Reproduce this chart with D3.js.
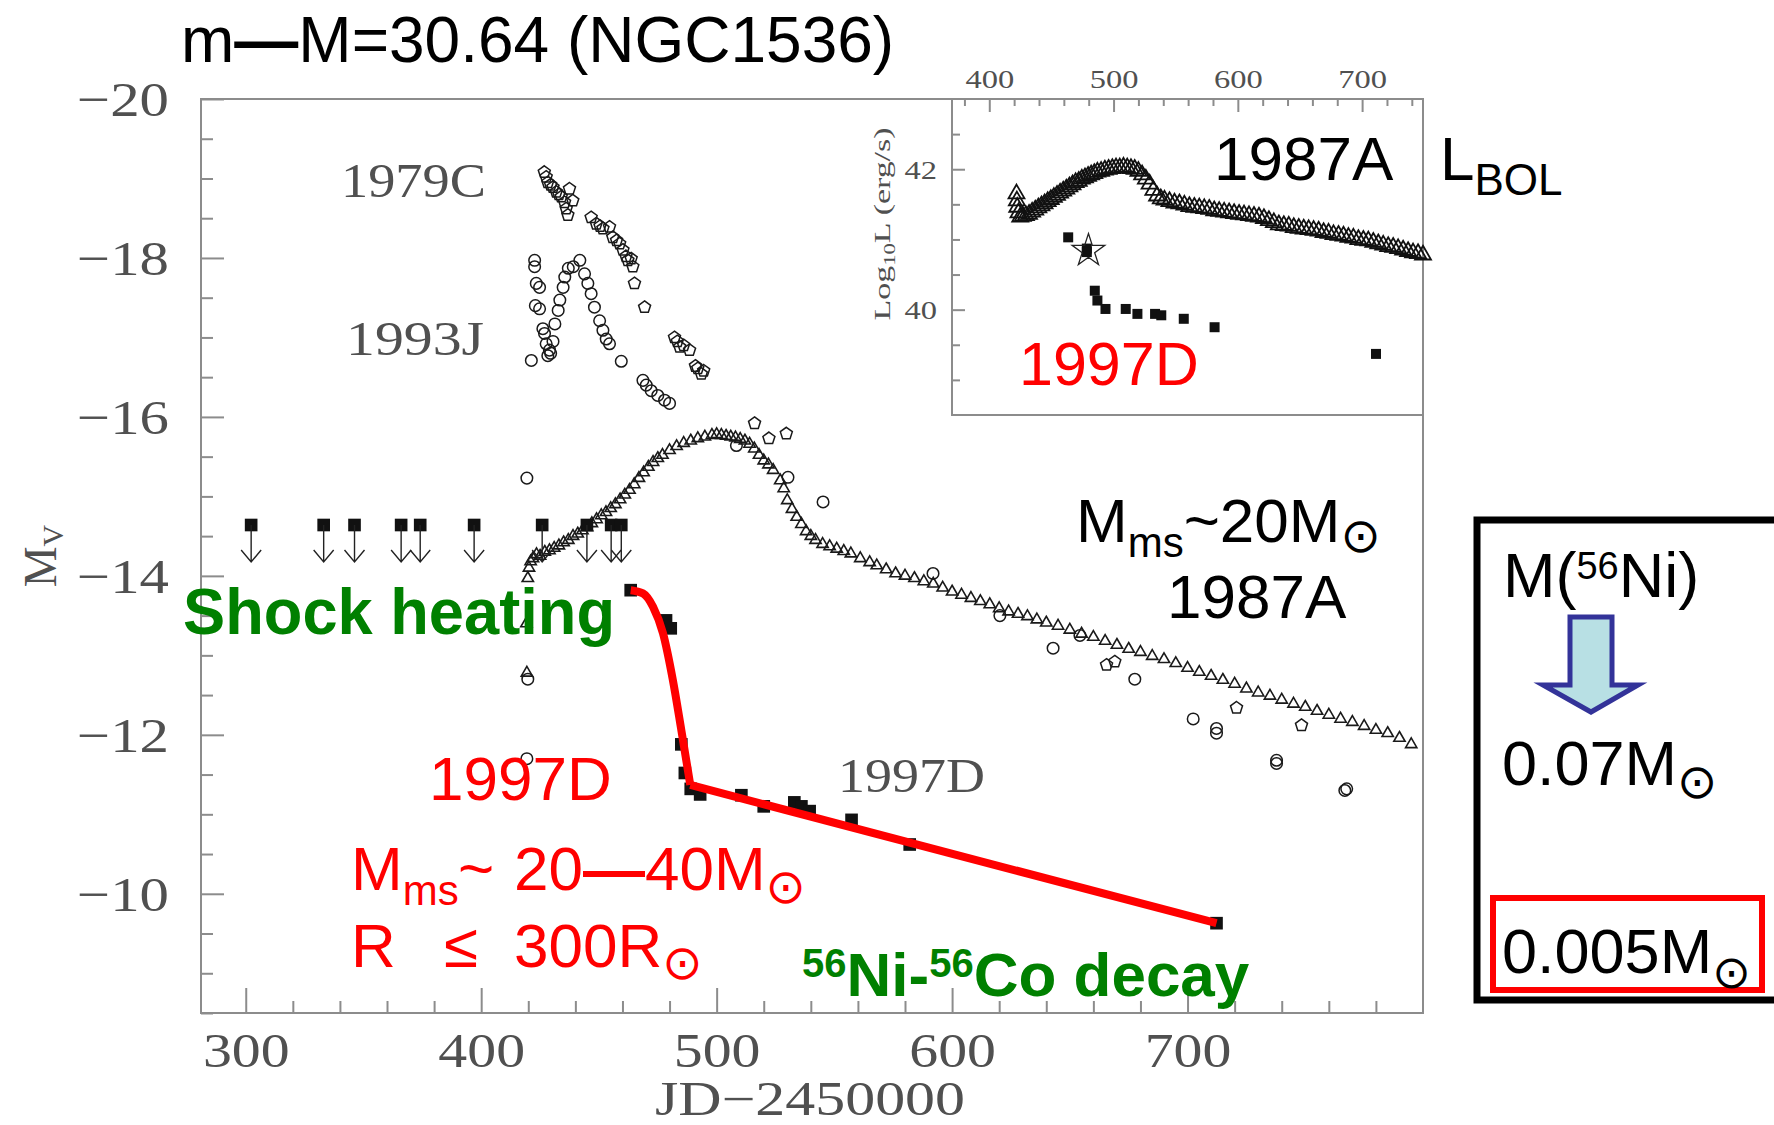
<!DOCTYPE html>
<html>
<head>
<meta charset="utf-8">
<script src="https://cdn.jsdelivr.net/npm/d3@7"></script>
<style>
  body { margin: 0; background: #fff; }
  svg { display: block; }
</style>
</head>
<body>
<svg id="chart" width="1774" height="1125"></svg>
<script>
// ---------------- data (day = JD-2450000 on the SN 1997D time axis) ----------------

// SN 1987A, V band absolute magnitude (open triangles)
const sn1987aV = [
  [419.2,-13.4],[419.4,-12.78],[419.8,-13.97],[420.3,-14.1],[421,-14.18],[422,-14.22],[423.5,-14.27],
  [425,-14.25],[427,-14.3],[429,-14.32],[431,-14.35],[433,-14.38],[435,-14.42],[437,-14.45],
  [439,-14.5],[441,-14.53],[443,-14.57],[445,-14.61],[447,-14.66],[449,-14.71],[451,-14.76],
  [453,-14.8],[455,-14.85],[457,-14.9],[459,-14.96],[461,-15.02],[463,-15.08],[465,-15.15],
  [467,-15.23],[469,-15.3],[471,-15.37],[473,-15.43],[475,-15.48],[477,-15.52],[480,-15.58],
  [483,-15.63],[486,-15.67],[489,-15.7],[492,-15.73],[495,-15.75],[498,-15.77],[500,-15.78],
  [502,-15.77],[504,-15.76],[506,-15.75],[508,-15.74],[510,-15.72],[512,-15.7],[514,-15.66],
  [516,-15.6],[518,-15.52],[520,-15.45],[522,-15.4],[524,-15.33],[527,-15.2],[528.5,-15.1],
  [530,-14.95],[532,-14.84],[534,-14.74],[536,-14.65],[538,-14.56],[540,-14.5],[542,-14.45],
  [545,-14.4],[548,-14.37],[551,-14.34],[554,-14.31],[557,-14.28],[561,-14.22],[565,-14.17],
  [568,-14.13],[572,-14.08],[576,-14.03],[580,-14.0],[584,-13.97],[588,-13.93],[592,-13.9],
  [596,-13.85],[600,-13.8],[604,-13.76],[608,-13.72],[612,-13.68],[616,-13.64],[620,-13.59],
  [624,-13.55],[628,-13.52],[632,-13.49],[636,-13.45],[640,-13.41],[645,-13.37],[650,-13.32],
  [655,-13.27],[660,-13.23],[665,-13.18],[670,-13.13],[675,-13.08],[680,-13.04],[685,-12.99],
  [690,-12.95],[695,-12.9],[700,-12.84],[705,-12.79],[710,-12.74],[715,-12.69],[720,-12.64],
  [725,-12.58],[730,-12.53],[735,-12.49],[740,-12.44],[745,-12.39],[750,-12.35],[755,-12.3],
  [760,-12.25],[765,-12.2],[770,-12.16],[775,-12.11],[780,-12.06],[785,-12.02],[790,-11.96],
  [795,-11.88]
];

// SN 1979C (open pentagons)
const sn1979cV = [
  [426.8,-19.08],[427.6,-19.02],[428.3,-18.95],[429.5,-18.92],[430.5,-18.89],[431.9,-18.83],
  [433,-18.8],[434,-18.77],[435.4,-18.7],[436.1,-18.62],[436.8,-18.54],[437.5,-18.87],
  [438.9,-18.72],[446.7,-18.51],[448.9,-18.43],[450.5,-18.4],[451.7,-18.37],[454.5,-18.39],
  [455.9,-18.26],[457.5,-18.22],[458.8,-18.18],[460.2,-18.1],[461.5,-18.02],[462.3,-17.97],
  [463.7,-17.99],[464.4,-17.89],[465.1,-17.68],[469.4,-17.38],[482.1,-17.0],[483.3,-16.95],
  [484.3,-16.88],[486,-16.9],[488.5,-16.84],[491,-16.64],[492,-16.61],[493.5,-16.54],
  [494.5,-16.58],[516.1,-15.92],[522.2,-15.73],[529.6,-15.79],[665.6,-12.88],[669.1,-12.92],
  [720.8,-12.34],[748.4,-12.12]
];

// SN 1993J (open circles)
const sn1993jV = [
  [419.4,-15.23],[419.4,-11.7],[419.8,-12.7],[421.3,-16.71],[422.7,-17.97],[422.7,-17.89],
  [423.4,-17.68],[424.8,-17.63],[423,-17.4],[424.8,-17.36],[426.2,-17.11],[426.9,-17.05],
  [427.6,-16.92],[429,-16.84],[428.3,-16.77],[429.5,-16.8],[430.5,-16.95],[431.3,-17.17],
  [432.7,-17.34],[433.4,-17.47],[434.8,-17.63],[435.5,-17.76],[437,-17.87],[439.1,-17.89],
  [441.9,-17.97],[443.9,-17.8],[445.3,-17.68],[446.7,-17.55],[448.1,-17.38],[450.3,-17.21],
  [451.7,-17.09],[453.1,-16.98],[454.5,-16.92],[459.5,-16.7],[468.7,-16.46],[470.1,-16.4],
  [472.2,-16.33],[475,-16.27],[477.9,-16.21],[480,-16.17],[508.4,-15.64],[530.3,-15.24],
  [545.2,-14.93],[591.9,-14.03],[620.3,-13.5],[642.9,-13.09],[654.3,-13.25],[677.6,-12.7],
  [702.4,-12.2],[712.3,-12.08],[712.3,-12.02],[737.8,-11.68],[737.8,-11.64],[766.8,-11.3],
  [767.6,-11.32]
];

// SN 1997D detections (filled squares)
const sn1997dDay = [463.5,478.5,480.5,485,486.5,489,493,510.5,520,533,536,539.5,557.3,582,712.3];
const sn1997dMv  = [-13.82,-13.44,-13.34,-11.88,-11.52,-11.32,-11.25,-11.24,-11.1,-11.15,-11.1,-11.04,-10.93,-10.62,-9.63];

// SN 1997D pre-discovery upper limits
const sn1997dLimDay = [302.3,333.1,346.2,366.0,374.1,397.0,425.9,444.9,455.2,459.5];
const sn1997dLimMv  = [-14.64,-14.64,-14.64,-14.64,-14.64,-14.64,-14.64,-14.64,-14.64,-14.64];

// model light curve through SN 1997D: shock-cooling drop, then 56Co tail
const dropDay = [463.5,468.7,473,477.2,481.4,485,488.8];
const dropMv  = [-13.82,-13.78,-13.61,-13.28,-12.69,-12.06,-11.37];
const tailDay = [488.8,712.3];
const tailMv  = [-11.37,-9.63];

// inset: bolometric luminosity
const bol1987a = [
  [421.9,41.65],[422.2,41.55],[422.5,41.46],[423.5,41.38],[424.9,41.32],[427,41.33],[429.5,41.34],
  [432,41.36],[434.5,41.39],[437,41.42],[439.5,41.45],[442,41.48],[444.5,41.51],[447,41.54],
  [449.5,41.57],[452,41.6],[454.5,41.63],[457,41.66],[459.5,41.69],[462,41.72],[464.5,41.75],
  [467,41.78],[469.5,41.81],[472,41.83],[474.5,41.86],[477,41.88],[479.5,41.9],[482,41.92],
  [484.5,41.94],[487,41.96],[490,41.97],[493,41.99],[496,42.0],[499,42.01],[502,42.02],
  [505,42.02],[508,42.03],[511,42.02],[514,42.01],[517,42.0],[520,41.97],[523,41.92],
  [526,41.86],[529,41.79],[532,41.7],[535,41.62],[538,41.58],[541,41.56],[545,41.54],
  [549,41.52],[553,41.51],[557,41.49],[561,41.47],[565,41.46],[569,41.45],[573,41.44],
  [577,41.43],[581,41.41],[585,41.4],[589,41.39],[593,41.38],[597,41.37],[601,41.36],
  [605,41.35],[609,41.34],[613,41.33],[617,41.32],[621,41.3],[625,41.27],[629,41.24],
  [633,41.21],[637,41.2],[641,41.19],[645,41.17],[649,41.16],[653,41.15],[657,41.14],
  [661,41.13],[665,41.12],[669,41.1],[673,41.09],[677,41.07],[681,41.06],[685,41.05],
  [689,41.03],[693,41.02],[697,41.0],[701,40.99],[705,40.98],[709,40.96],[713,40.94],
  [717,40.92],[721,40.9],[725,40.89],[729,40.87],[733,40.85],[737,40.83],[741,40.81],
  [745,40.8],[749,40.78]
];
const bol1997dDay = [463.5,478.5,478.5,484.9,487,493.5,509.8,519.2,533.4,538.4,556.5,581.3,711.2];
const bol1997dLog = [41.03,40.87,40.82,40.27,40.13,40.01,40.01,39.94,39.94,39.92,39.87,39.75,39.37];
const starDay = [479.8];
const starLog = [40.84];

// tick labels
const mainXTicks = [300,400,500,600,700];
const mainYTicks = [-20,-18,-16,-14,-12,-10];
const insetXTicks = [400,500,600,700];
const insetYTicks = [40,42];

// ---------------- drawing ----------------
const svg = d3.select('#chart');
const AX = '#8c8c8c';
const TX = '#505050';
const SERIF = "'Liberation Serif','DejaVu Serif',serif";
const SANS = "'Liberation Sans',Arial,sans-serif";
const SUN = "'DejaVu Sans',sans-serif";
const zip = (a, b) => a.map((v, i) => [v, b[i]]);

svg.append('rect').attr('width', 1774).attr('height', 1125).attr('fill', '#fff');

const x = d3.scaleLinear().domain([281, 800]).range([201, 1423]);
const y = d3.scaleLinear().domain([-20, -8.5]).range([99, 1013]);

// frame
svg.append('rect')
  .attr('x', 201).attr('y', 99).attr('width', 1222).attr('height', 914)
  .attr('fill', 'none').attr('stroke', AX).attr('stroke-width', 2);

function styleAxis(g) {
  g.select('.domain').remove();
  g.selectAll('line').attr('stroke', AX).attr('stroke-width', 2);
  g.attr('font-family', SERIF).attr('fill', TX);
}

// bottom axis
const bottom = y.range()[1];
svg.append('g').attr('transform', `translate(0,${bottom})`)
  .call(d3.axisBottom(x).tickValues(d3.range(300, 800, 20).filter(v => v % 100)).tickSize(-12).tickFormat(''))
  .call(styleAxis);
svg.append('g').attr('transform', `translate(0,${bottom})`)
  .call(d3.axisBottom(x).tickValues(mainXTicks).tickSize(-25).tickFormat(d3.format('d')))
  .call(styleAxis)
  .call(g => g.selectAll('text')
    .attr('y', 0).attr('dy', 0).attr('fill', TX).attr('font-size', 49)
    .attr('transform', 'translate(0,54) scale(1.18,1)'));

// left axis
svg.append('g').attr('transform', 'translate(201,0)')
  .call(d3.axisLeft(y).tickValues(d3.range(-20, -8.4, 0.5).filter(v => Math.abs(v % 2) > 1e-6)).tickSize(-12).tickFormat(''))
  .call(styleAxis);
svg.append('g').attr('transform', 'translate(201,0)')
  .call(d3.axisLeft(y).tickValues(mainYTicks).tickSize(-23).tickFormat(d => '\u2212' + Math.abs(d)))
  .call(styleAxis)
  .call(g => g.selectAll('text')
    .attr('x', 0).attr('dy', '0.34em').attr('fill', TX).attr('font-size', 49)
    .attr('transform', 'translate(-32,0) scale(1.2,1)'));

// axis titles
const ylab = svg.append('text').attr('transform', 'translate(56,556) rotate(-90)')
  .attr('text-anchor', 'middle').attr('font-family', SERIF).attr('fill', TX).attr('font-size', 46);
ylab.append('tspan').text('M');
ylab.append('tspan').attr('font-size', 30).attr('dy', 7).text('V');

svg.append('text').attr('x', 655).attr('y', 1115)
  .attr('font-family', SERIF).attr('fill', TX).attr('font-size', 48)
  .attr('textLength', 310).attr('lengthAdjust', 'spacingAndGlyphs')
  .text('JD\u22122450000');

// symbols
const pentagon = {
  draw(ctx, size) {
    const r = Math.sqrt(size / 2.378);
    for (let i = 0; i < 5; i++) {
      const a = -Math.PI / 2 + i * 2 * Math.PI / 5;
      const px = r * Math.cos(a), py = r * Math.sin(a);
      if (i) ctx.lineTo(px, py); else ctx.moveTo(px, py);
    }
    ctx.closePath();
  }
};

function scatter(data, sx, sy, type, size, fill, stroke, sw) {
  svg.append('g').selectAll('path').data(data).join('path')
    .attr('transform', d => `translate(${sx(d[0])},${sy(d[1])})`)
    .attr('d', d3.symbol().type(type).size(size))
    .attr('fill', fill).attr('stroke', stroke).attr('stroke-width', sw);
}

scatter(sn1987aV, x, y, d3.symbolTriangle, 55, 'none', '#1a1a1a', 1.6);
scatter(sn1979cV, x, y, pentagon, 95, 'none', '#1a1a1a', 1.5);
scatter(sn1993jV, x, y, d3.symbolCircle, 105, 'none', '#1a1a1a', 1.5);

// upper limits: square with a downward arrow
const lim = svg.append('g');
const limData = zip(sn1997dLimDay, sn1997dLimMv);
lim.selectAll('path.sq').data(limData).join('path').attr('class', 'sq')
  .attr('transform', d => `translate(${x(d[0])},${y(d[1])})`)
  .attr('d', d3.symbol().type(d3.symbolSquare).size(160)).attr('fill', '#111');
lim.selectAll('path.ar').data(limData).join('path').attr('class', 'ar')
  .attr('d', d => {
    const cx = x(d[0]), cy = y(d[1]), tip = cy + 37;
    return `M${cx},${cy}V${tip}M${cx - 10},${tip - 12}L${cx},${tip}L${cx + 10},${tip - 12}`;
  })
  .attr('fill', 'none').attr('stroke', '#222').attr('stroke-width', 1.4);

// SN 1997D detections
scatter(zip(sn1997dDay, sn1997dMv), x, y, d3.symbolSquare, 160, '#111', 'none', 0);

// model curve
const lineGen = d3.line().x(d => x(d[0])).y(d => y(d[1]));
svg.append('path').datum(zip(dropDay, dropMv))
  .attr('d', lineGen.curve(d3.curveMonotoneX))
  .attr('fill', 'none').attr('stroke', '#ff0000').attr('stroke-width', 8)
  .attr('stroke-linecap', 'butt').attr('stroke-linejoin', 'round');
svg.append('path').datum(zip(tailDay, tailMv))
  .attr('d', d3.line().x(d => x(d[0])).y(d => y(d[1])))
  .attr('fill', 'none').attr('stroke', '#ff0000').attr('stroke-width', 8)
  .attr('stroke-linecap', 'butt');

// ---------------- inset ----------------
const xi = d3.scaleLinear().domain([370, 749]).range([952, 1423]);
const yi = d3.scaleLinear().domain([43, 38.5]).range([99, 415]);

svg.append('rect').attr('x', 952).attr('y', 99).attr('width', 471).attr('height', 316)
  .attr('fill', '#fff').attr('stroke', AX).attr('stroke-width', 2);

svg.append('g').attr('transform', 'translate(0,99)')
  .call(d3.axisTop(xi).tickValues(d3.range(380, 749, 20).filter(v => v % 100)).tickSize(-7).tickFormat(''))
  .call(styleAxis);
svg.append('g').attr('transform', 'translate(0,99)')
  .call(d3.axisTop(xi).tickValues(insetXTicks).tickSize(-13).tickFormat(d3.format('d')))
  .call(styleAxis)
  .call(g => g.selectAll('text')
    .attr('y', 0).attr('dy', 0).attr('fill', TX).attr('font-size', 26)
    .attr('transform', 'translate(0,-11) scale(1.25,1)'));

svg.append('g').attr('transform', 'translate(952,0)')
  .call(d3.axisLeft(yi).tickValues(d3.range(39, 43, 0.5).filter(v => v !== 40 && v !== 42)).tickSize(-8).tickFormat(''))
  .call(styleAxis);
svg.append('g').attr('transform', 'translate(952,0)')
  .call(d3.axisLeft(yi).tickValues(insetYTicks).tickSize(-13).tickFormat(d3.format('d')))
  .call(styleAxis)
  .call(g => g.selectAll('text')
    .attr('x', 0).attr('dy', '0.34em').attr('fill', TX).attr('font-size', 26)
    .attr('transform', 'translate(-15,0) scale(1.25,1)'));

const ilab = svg.append('text').attr('transform', 'translate(890,224) rotate(-90)')
  .attr('text-anchor', 'middle').attr('font-family', SERIF).attr('fill', TX).attr('font-size', 24)
  .attr('textLength', 193).attr('lengthAdjust', 'spacingAndGlyphs');
ilab.append('tspan').text('Log');
ilab.append('tspan').attr('font-size', 16).attr('dy', 5).text('10');
ilab.append('tspan').attr('dy', -5).text('L (erg/s)');

scatter(bol1987a, xi, yi, d3.symbolTriangle, 110, 'none', '#111', 1.8);
scatter(zip(bol1997dDay, bol1997dLog), xi, yi, d3.symbolSquare, 100, '#111', 'none', 0);
scatter(zip(starDay, starLog), xi, yi, d3.symbolStar, 330, 'none', '#222', 1.3);

// ---------------- annotations ----------------
function rich(xp, yp, parts, opt) {
  const t = svg.append('text').attr('x', xp).attr('y', yp)
    .attr('font-family', opt.font || SANS).attr('font-size', opt.size)
    .attr('fill', opt.fill).attr('font-weight', opt.weight || 'normal');
  if (opt.len) t.attr('textLength', opt.len).attr('lengthAdjust', 'spacingAndGlyphs');
  parts.forEach(p => {
    const s = t.append('tspan').text(p.t);
    if (p.x != null) s.attr('x', p.x);
    if (p.y != null) s.attr('y', p.y);
    if (p.size) s.attr('font-size', p.size);
    if (p.font) s.attr('font-family', p.font);
    if (p.weight) s.attr('font-weight', p.weight);
  });
  return t;
}

// title
rich(181, 62, [{ t: 'm' }, { t: '\u2014', weight: 'bold' }, { t: 'M=30.64 (NGC1536)' }], { size: 64, fill: '#000' });

// grey light-curve labels
rich(341, 197, [{ t: '1979C' }], { font: SERIF, size: 49, fill: TX, len: 145 });
rich(346, 355, [{ t: '1993J' }], { font: SERIF, size: 49, fill: TX, len: 138 });
rich(838, 792, [{ t: '1997D' }], { font: SERIF, size: 49, fill: TX, len: 147 });

// inset labels
rich(1214, 180, [{ t: '1987A' }], { size: 62, fill: '#000' });
rich(1440, 180, [{ t: 'L' }, { t: 'BOL', y: 195, size: 44 }], { size: 62, fill: '#000' });
rich(1019, 385, [{ t: '1997D' }], { size: 61, fill: '#ff0000' });

// 1987A annotation
rich(1076, 542, [
  { t: 'M' }, { t: 'ms', y: 557, size: 42 }, { t: '~20M', y: 542 },
  { t: '\u2299', y: 552, size: 48, font: SUN }
], { size: 62, fill: '#000' });
rich(1167, 618, [{ t: '1987A' }], { size: 62, fill: '#000' });

// green physics labels
rich(183, 634, [{ t: 'Shock heating' }], { size: 64, fill: '#008000', weight: 'bold', len: 432 });
rich(802, 977, [
  { t: '56', size: 40 }, { t: 'Ni-', y: 996 }, { t: '56', y: 977, size: 40 }, { t: 'Co decay', y: 996 }
], { size: 62, fill: '#008000', weight: 'bold' });

// red 1997D annotations
rich(429, 800, [{ t: '1997D' }], { size: 62, fill: '#ff0000' });
rich(351, 890, [
  { t: 'M' }, { t: 'ms', y: 905, size: 42 }, { t: '~', x: 458, y: 890 },
  { t: '20', x: 514 }, { t: '\u2014', weight: 'bold' }, { t: '40M' },
  { t: '\u2299', y: 903, size: 48, font: SUN }
], { size: 62, fill: '#ff0000' });
rich(351, 967, [
  { t: 'R' }, { t: '\u2264', x: 444 }, { t: '300R', x: 514 },
  { t: '\u2299', y: 979, size: 48, font: SUN }
], { size: 62, fill: '#ff0000' });

// nickel mass box
svg.append('rect').attr('x', 1477).attr('y', 520).attr('width', 420).attr('height', 480)
  .attr('fill', 'none').attr('stroke', '#000').attr('stroke-width', 7);
rich(1503, 597, [
  { t: 'M(' }, { t: '56', y: 579, size: 38 }, { t: 'Ni)', y: 597 }
], { size: 63, fill: '#000' });
svg.append('path')
  .attr('d', 'M1570,617L1612,617L1612,685L1638,685L1591,712L1543,685L1570,685Z')
  .attr('fill', '#b8e0e4').attr('stroke', '#333399').attr('stroke-width', 5)
  .attr('stroke-linejoin', 'miter');
rich(1502, 785, [{ t: '0.07M' }, { t: '\u2299', y: 798, size: 48, font: SUN }], { size: 63, fill: '#000' });
svg.append('rect').attr('x', 1493).attr('y', 898).attr('width', 269).attr('height', 92)
  .attr('fill', 'none').attr('stroke', '#ff0000').attr('stroke-width', 6);
rich(1502, 973, [{ t: '0.005M' }, { t: '\u2299', y: 988, size: 46, font: SUN }], { size: 63, fill: '#000' });
</script>
</body>
</html>
